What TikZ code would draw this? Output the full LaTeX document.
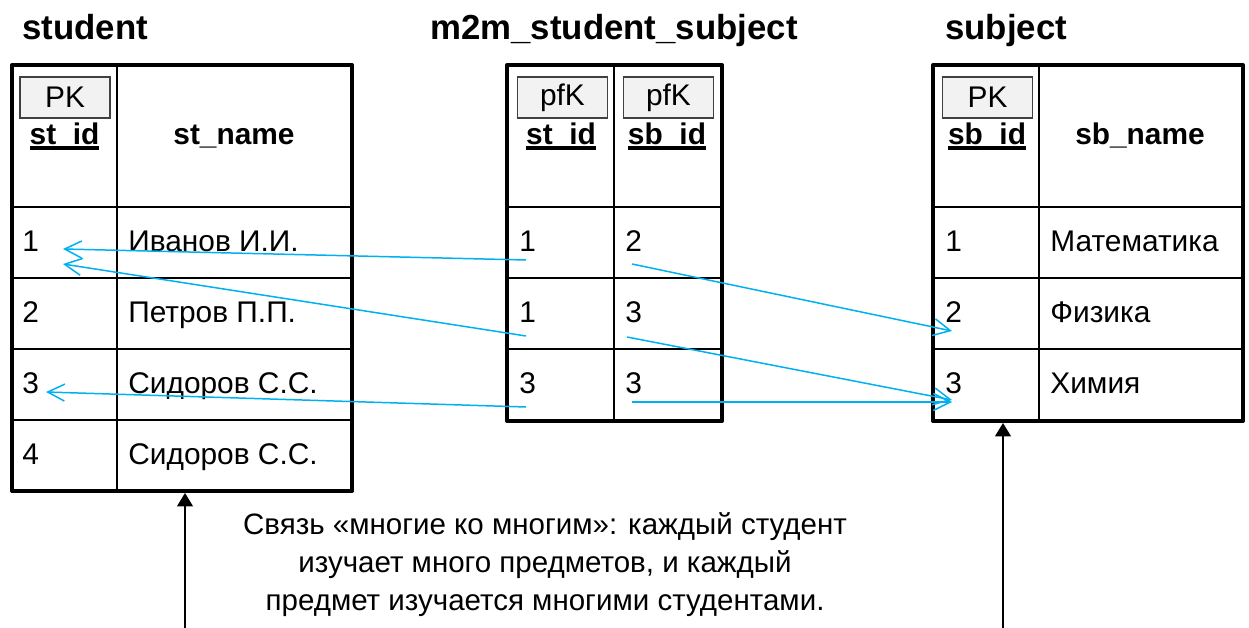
\documentclass[tikz,border=0pt]{standalone}
\usepackage{fontspec}
\setmainfont{Liberation Sans}
\usetikzlibrary{arrows.meta}

\definecolor{linkblue}{RGB}{0,176,240}
\definecolor{keygray}{RGB}{242,242,242}

\newcommand{\cellfont}{\fontsize{17pt}{20pt}\selectfont}
\newcommand{\titlefont}{\fontsize{19.8pt}{23pt}\selectfont\bfseries}
\newcommand{\notefont}{\fontsize{16.8pt}{21.8pt}\selectfont}
% bold key name with a heavy underline
\newcommand{\keyname}[1]{\setbox0\hbox{\bfseries #1}\rlap{\rule[-2.6pt]{\wd0}{1.9pt}}\box0}

\tikzset{
	tabframe/.style={line width=2.3pt, line join=round},
	tabgrid/.style={line width=1.2pt},
	keybox/.style={draw=black!75, fill=keygray, line width=0.8pt, inner sep=0pt,
		minimum width=1.8cm, minimum height=0.82cm, font=\cellfont},
	cell/.style={anchor=base west, inner sep=0pt, font=\cellfont},
	head/.style={anchor=base, inner sep=0pt, font=\cellfont\bfseries},
	title/.style={anchor=base west, inner sep=0pt, font=\titlefont},
	link/.style={linkblue, line width=0.85pt, -{Straight Barb[length=0.34cm, width=0.34cm]}},
	pointer/.style={line width=0.9pt, -{Triangle[length=0.27cm, width=0.32cm]}}
}

\begin{document}
\begin{tikzpicture}[x=0.02cm, y=-0.02cm]
	\useasboundingbox (0,0) rectangle (1249,628);
	
	%titles
	\node (ttlst) at (22,40) [title]{student};
	\node (ttlm2m) at (614,40) [title, anchor=base]{m2m\_student\_subject};
	\node (ttlsb) at (945,40) [title]{subject};
	
	%student table
	\draw[tabframe] (12,65) rectangle (352,491);
	\draw[tabgrid] (117,65) -- (117,491);
	\foreach \y in {207, 278, 349, 420}{
		\draw[tabgrid] (12,\y)--(352,\y);
	}
	\node (stpk) at (65,97.5) [keybox]{PK};
	\node (sthid) at (64.5,145) [head]{\keyname{st\_id}};
	\node (sthname) at (234,145) [head]{st\_name};
	\foreach \i/\name in {1/Иванов И.И., 2/Петров П.П., 3/Сидоров С.С., 4/Сидоров С.С.}{
		\node (stid\i) at (22, 181+71*\i) [cell]{\i};
		\node (stname\i) at (128, 181+71*\i) [cell]{\name};
	}
	
	%link table
	\draw[tabframe] (507,65) rectangle (722,421);
	\draw[tabgrid] (614,65) -- (614,421);
	\foreach \y in {207, 278, 349}{
		\draw[tabgrid] (507,\y)--(722,\y);
	}
	\node (mstpk) at (562.5,97.5) [keybox]{pfK};
	\node (msbpk) at (668.5,97.5) [keybox]{pfK};
	\node (msthid) at (561,145) [head]{\keyname{st\_id}};
	\node (msbhid) at (667,145) [head]{\keyname{sb\_id}};
	\foreach \i/\st/\sb in {1/1/2, 2/1/3, 3/3/3}{
		\node (mst\i) at (519, 181+71*\i) [cell]{\st};
		\node (msb\i) at (625, 181+71*\i) [cell]{\sb};
	}
	
	%subject table
	\draw[tabframe] (933,65) rectangle (1243,421);
	\draw[tabgrid] (1039,65) -- (1039,421);
	\foreach \y in {207, 278, 349}{
		\draw[tabgrid] (933,\y)--(1243,\y);
	}
	\node (sbpk) at (987.5,97.5) [keybox]{PK};
	\node (sbhid) at (987,145) [head]{\keyname{sb\_id}};
	\node (sbhname) at (1140,145) [head]{sb\_name};
	\foreach \i/\name in {1/Математика, 2/Физика, 3/Химия}{
		\node (sbid\i) at (945, 181+71*\i) [cell]{\i};
		\node (sbname\i) at (1050, 181+71*\i) [cell]{\name};
	}
	
	%link ends
	\coordinate (fromst1) at (526,260);
	\coordinate (fromst2) at (526,336);
	\coordinate (fromst3) at (526,407);
	\coordinate (fromsb1) at (632,264);
	\coordinate (fromsb2) at (627,337);
	\coordinate (fromsb3) at (632,402);
	\coordinate (tost1a) at (63,249);
	\coordinate (tost1b) at (63,264);
	\coordinate (tost3) at (46,392);
	\coordinate (tosb2) at (952,331);
	\coordinate (tosb3a) at (952,400);
	\coordinate (tosb3b) at (952,402);
	
	\draw[link] (fromst1) -- (tost1a);
	\draw[link] (fromst2) -- (tost1b);
	\draw[link] (fromst3) -- (tost3);
	\draw[link] (fromsb1) -- (tosb2);
	\draw[link] (fromsb2) -- (tosb3a);
	\draw[link] (fromsb3) -- (tosb3b);
	
	%note with pointers
	\node (note) at (545,512) [anchor=north, inner sep=0pt, align=center, font=\notefont]{Связь «многие ко многим»: каждый студент\\изучает много предметов, и каждый\\предмет изучается многими студентами.};
	\coordinate (stfoot) at (185,628);
	\coordinate (sbfoot) at (1003,628);
	\coordinate (stbottom) at (185,493);
	\coordinate (sbbottom) at (1003,423);
	\draw[pointer] (stfoot) -- (stbottom);
	\draw[pointer] (sbfoot) -- (sbbottom);
\end{tikzpicture}
\end{document}
